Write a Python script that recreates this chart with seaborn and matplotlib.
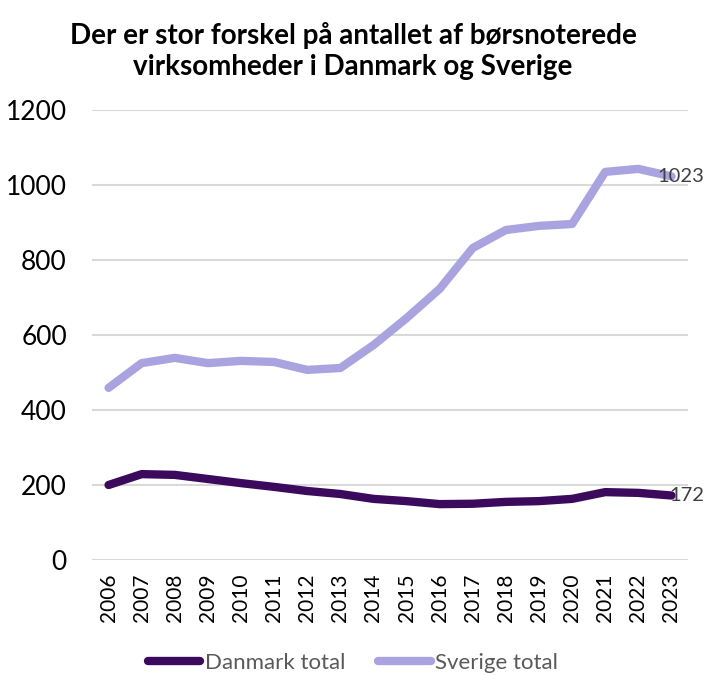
import matplotlib
matplotlib.use("Agg")
import matplotlib.pyplot as plt
import seaborn as sns
import pandas as pd
from matplotlib.lines import Line2D

years = [str(y) for y in range(2006, 2024)]
danmark = [200, 229, 227, 216, 205, 195, 184, 176, 163, 157, 149, 150, 155, 157, 163, 181, 179, 172]
sverige = [459, 525, 539, 525, 531, 528, 507, 512, 573, 645, 723, 832, 880, 891, 896, 1035, 1043, 1023]
series_names = ["Danmark total", "Sverige total"]
colors = ["#3b0a5c", "#a9a4df"]
yticks = [0, 200, 400, 600, 800, 1000, 1200]
title = "Der er stor forskel på antallet af børsnoterede\nvirksomheder i Danmark og Sverige"

sns.set_theme(style="white")
plt.rcParams['font.family'] = ['Lato', 'DejaVu Sans']

df = pd.DataFrame({
    "year": years * 2,
    "value": danmark + sverige,
    "series": [series_names[0]] * len(years) + [series_names[1]] * len(years),
})
df["pos"] = list(range(len(years))) * 2

fig = plt.figure(figsize=(7.06, 6.75), dpi=100)
ax = fig.add_axes([92/706, 1 - 560/675, (688-92)/706, (560-110)/675])

sns.lineplot(data=df, x="pos", y="value", hue="series", palette=colors,
             linewidth=6, ax=ax, legend=False, sort=False)
for ln in ax.lines:
    ln.set_solid_capstyle("round")
    ln.set_solid_joinstyle("round")

ax.set_xlim(-0.5, len(years) - 0.5)
ax.set_ylim(0, 1200)
ax.set_yticks(yticks)
ax.set_yticklabels([str(v) for v in yticks], fontsize=19, color="#000000")
ax.set_xticks(range(len(years)))
ax.set_xticklabels(years, rotation=90, fontsize=15, color="#000000")
ax.tick_params(axis="x", length=0, pad=10)
ax.tick_params(axis="y", length=0, pad=18)
ax.grid(axis="y", color="#d9d9d9", linewidth=1.5)
ax.set_axisbelow(True)
for s in ax.spines.values():
    s.set_visible(False)
ax.set_xlabel("")
ax.set_ylabel("")

last = len(years) - 1
ax.annotate(str(sverige[-1]), (last, sverige[-1]), xytext=(-10, 0), textcoords="offset points",
            va="center", ha="left", fontsize=14.5, color="#404040")
ax.annotate(str(danmark[-1]), (last, danmark[-1]), xytext=(-1.5, 0), textcoords="offset points",
            va="center", ha="left", fontsize=14.5, color="#404040")

fig.text(0.5, 1 - 51/675, title, ha="center", va="center", fontsize=20,
         fontweight="bold", color="#000000", linespacing=1.2)

handles = [Line2D([0], [0], color=c, linewidth=6, solid_capstyle="round") for c in colors]
fig.legend(handles, series_names, loc="center", bbox_to_anchor=(0.5, 1 - 663/675),
           ncol=2, frameon=False, fontsize=16, handlelength=2.35, handletextpad=0.2,
           columnspacing=1.5, labelcolor="#595959", borderaxespad=0, borderpad=0)

fig.savefig("out.png", dpi=100)
